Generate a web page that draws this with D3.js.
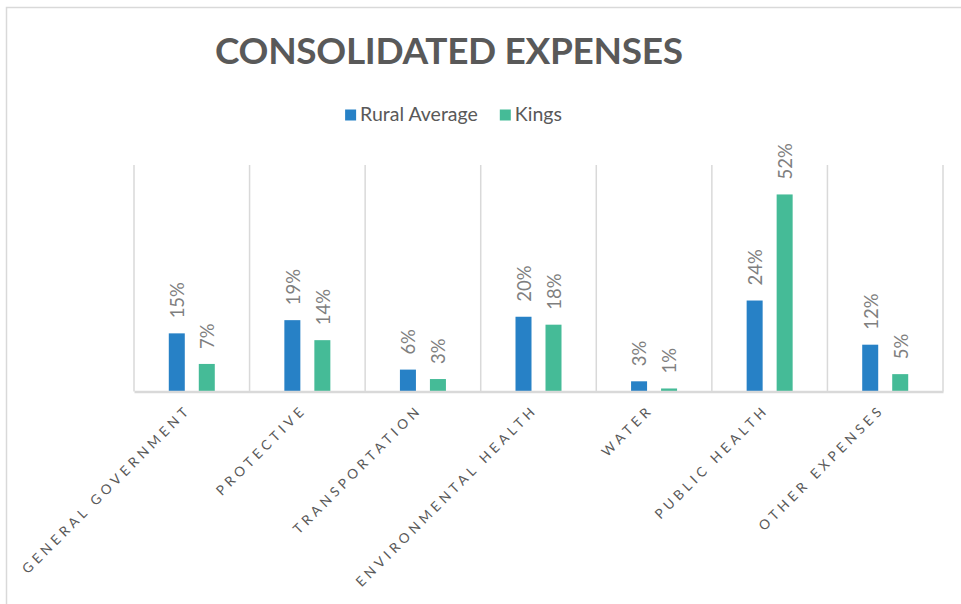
<!DOCTYPE html>
<html>
<head>
<meta charset="utf-8">
<script src="https://cdn.jsdelivr.net/npm/d3@7"></script>
<style>
  body { margin: 0; background: #fff; }
  svg { display: block; font-family: "Lato", "Open Sans", sans-serif; }
</style>
</head>
<body>
<svg id="chart" width="961" height="604"></svg>
<script>
// chart data
var categories = [
  "General Government", "Protective", "Transportation",
  "Environmental Health", "Water", "Public Health", "Other Expenses"
];
var seriesNames = ["Rural Average", "Kings"];
var ruralAverage = [0.154, 0.189, 0.058, 0.198, 0.027, 0.241, 0.124];
var kings        = [0.073, 0.136, 0.033, 0.177, 0.008, 0.522, 0.046];
var yMax = 0.6;

var colors = { "Rural Average": "#2781c6", "Kings": "#45bb97" };

var svg = d3.select("#chart");
var margin = { top: 165, right: 18, bottom: 212.5, left: 134 };
var width = 961 - margin.left - margin.right,
    height = 604 - margin.top - margin.bottom;

// outer chart border (only top/left visible in the frame)
svg.append("path")
    .attr("d", "M6.5,604V7.5H961")
    .attr("fill", "none")
    .attr("stroke", "#d9d9d9")
    .attr("stroke-width", 1.5);

// title
svg.append("text")
    .attr("x", 449)
    .attr("y", 63.5)
    .attr("text-anchor", "middle")
    .attr("font-size", 37)
    .attr("font-weight", "bold")
    .attr("fill", "#595959")
    .attr("textLength", 468)
    .attr("lengthAdjust", "spacing")
    .text("CONSOLIDATED EXPENSES");

// legend
var legend = svg.append("g");
var lx = 0;
seriesNames.forEach(function(name, i) {
  var item = legend.append("g").attr("transform", "translate(" + lx + ",0)");
  item.append("rect")
      .attr("x", 0).attr("y", -11.5)
      .attr("width", 11).attr("height", 11)
      .attr("fill", colors[name]);
  var t = item.append("text")
      .attr("x", 15)
      .attr("y", 0)
      .attr("font-size", 19.5)
      .attr("fill", "#595959")
      .text(name);
  lx += 15 + t.node().getComputedTextLength() + 22;
});
var legendW = lx - 22;
legend.attr("transform", "translate(" + (453.5 - legendW / 2) + ",121)");

var g = svg.append("g")
    .attr("transform", "translate(" + margin.left + "," + margin.top + ")");

var x0 = d3.scaleBand().domain(categories).range([0, width]).padding(0);
var bw = x0.bandwidth();
var x1 = d3.scaleBand().domain(seriesNames)
    .range([bw / 2 - 23, bw / 2 + 23])
    .paddingInner(14 / 30).paddingOuter(0);
var y = d3.scaleLinear().domain([0, yMax]).range([height, 0]);

// vertical gridlines between categories
var bounds = categories.map(function(c) { return x0(c); }).concat([width]);
g.selectAll(".grid")
  .data(bounds)
  .enter().append("line")
    .attr("class", "grid")
    .attr("x1", function(d) { return d; })
    .attr("x2", function(d) { return d; })
    .attr("y1", 0)
    .attr("y2", height)
    .attr("stroke", "#d9d9d9")
    .attr("stroke-width", 1.5);

var rows = categories.map(function(c, i) {
  return { cat: c, values: [
    { key: "Rural Average", value: ruralAverage[i] },
    { key: "Kings", value: kings[i] }
  ]};
});

var groups = g.selectAll(".cat")
  .data(rows)
  .enter().append("g")
    .attr("class", "cat")
    .attr("transform", function(d) { return "translate(" + x0(d.cat) + ",0)"; });

groups.selectAll("rect")
  .data(function(d) { return d.values; })
  .enter().append("rect")
    .attr("x", function(d) { return x1(d.key); })
    .attr("y", function(d) { return y(d.value); })
    .attr("width", x1.bandwidth())
    .attr("height", function(d) { return height - y(d.value); })
    .attr("fill", function(d) { return colors[d.key]; });

var pct = d3.format(".0%");
groups.selectAll(".val")
  .data(function(d) { return d.values; })
  .enter().append("text")
    .attr("class", "val")
    .attr("transform", function(d) {
      return "translate(" + (x1(d.key) + x1.bandwidth() / 2) + "," + (y(d.value) - 15) + ") rotate(-90)";
    })
    .attr("dy", "0.4em")
    .attr("font-size", 18.5)
    .attr("fill", "#7f7f7f")
    .text(function(d) { return pct(d.value); });

// x axis line and rotated category labels
var xAxis = d3.axisBottom(x0).tickSize(0).tickPadding(0);
var ax = g.append("g")
    .attr("transform", "translate(0," + height + ")")
    .call(xAxis);
ax.select(".domain")
    .attr("stroke", "#d9d9d9")
    .attr("stroke-width", 2.5);
ax.selectAll(".tick text")
    .attr("font-family", "Lato, sans-serif")
    .attr("font-size", 13.5)
    .attr("letter-spacing", "4.1px")
    .attr("fill", "#595959")
    .attr("text-anchor", "end")
    .attr("dy", null)
    .attr("y", 0)
    .attr("transform", "translate(0,19) rotate(-45)")
    .text(function(d) { return d.toUpperCase(); });
</script>
</body>
</html>
